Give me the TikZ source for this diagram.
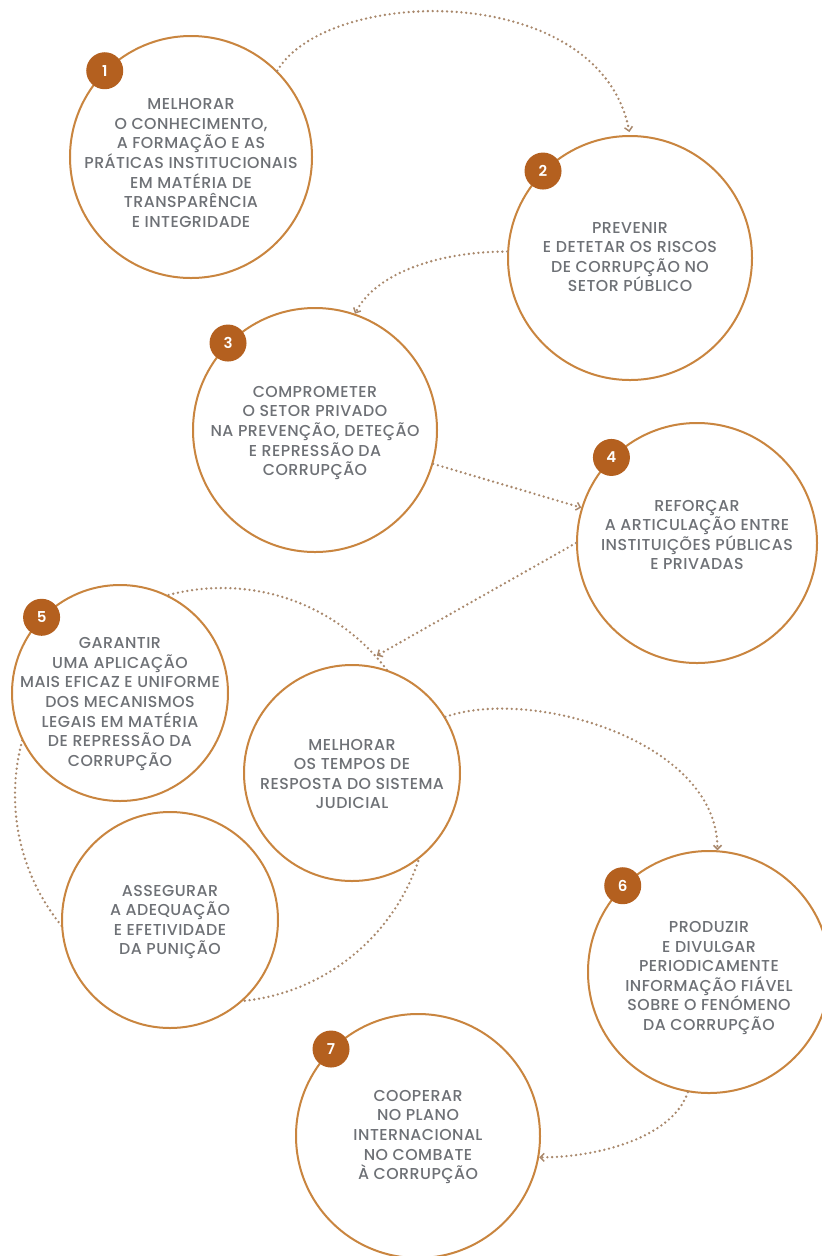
\documentclass[tikz,border=0pt]{standalone}
\usepackage{fontspec}
\setmainfont{Poppins}[UprightFont={* Medium}, BoldFont={* SemiBold}, LetterSpace=3]
\usetikzlibrary{arrows.meta}
\definecolor{ringcol}{HTML}{C9853F}
\definecolor{badgecol}{HTML}{B4601F}
\definecolor{txt}{HTML}{6E7176}
\definecolor{dotcol}{HTML}{A9886C}
\begin{document}
\begin{tikzpicture}[x=1bp,y=-1bp,
  circ/.style={circle, draw=ringcol, line width=2bp, fill=white, inner sep=0pt},
  lbl/.style={align=center, text=txt, font=\fontsize{15.8bp}{19.6bp}\selectfont, inner sep=0pt},
  badge/.style={circle, fill=badgecol, inner sep=0pt, minimum size=37bp, text=white, font=\fontsize{15bp}{15bp}\selectfont\bfseries},
  flow/.style={draw=dotcol, line width=2.6bp, line cap=round, dash pattern=on 0bp off 4.8bp, -{Straight Barb[length=4bp, width=8bp, line width=1.5bp]}},
  ringst/.style={circle, draw=dotcol, line width=2.6bp, line cap=round, dash pattern=on 0bp off 4.8bp, inner sep=0pt, minimum size=414bp}
]
\fill[white] (0,0) rectangle (822,1256);
\useasboundingbox (0,0) rectangle (822,1256);

% big dotted ring around the cluster
\node[ringst] (ring) at (222,795) {};

% circles
\node[circ, minimum size=242bp] (c1) at (191,157) {};
\node[circ, minimum size=244bp] (c2) at (630,258) {};
\node[circ, minimum size=244bp] (c3) at (315,430) {};
\node[circ, minimum size=240bp] (c4) at (697,543) {};
\node[circ, minimum size=216bp] (c5) at (120,693) {};
\node[circ, minimum size=216bp] (cm) at (352,773) {};
\node[circ, minimum size=216bp] (ca) at (170,920) {};
\node[circ, minimum size=242bp] (c6) at (709,972) {};
\node[circ, minimum size=244bp] (c7) at (418,1136) {};

% texts
\node[lbl] (t1) at (191,163) {MELHORAR\\O CONHECIMENTO,\\A FORMAÇÃO E AS\\PRÁTICAS INSTITUCIONAIS\\EM MATÉRIA DE\\TRANSPARÊNCIA\\E INTEGRIDADE};
\node[lbl] (t2) at (630,257) {PREVENIR\\E DETETAR OS RISCOS\\DE CORRUPÇÃO NO\\SETOR PÚBLICO};
\node[lbl] (t3) at (315,433) {COMPROMETER\\O SETOR PRIVADO\\NA PREVENÇÃO, DETEÇÃO\\E REPRESSÃO DA\\CORRUPÇÃO};
\node[lbl] (t4) at (697,535) {REFORÇAR\\A ARTICULAÇÃO ENTRE\\INSTITUIÇÕES PÚBLICAS\\E PRIVADAS};
\node[lbl] (t5) at (120,704) {GARANTIR\\UMA APLICAÇÃO\\MAIS EFICAZ E UNIFORME\\DOS MECANISMOS\\LEGAIS EM MATÉRIA\\DE REPRESSÃO DA\\CORRUPÇÃO};
\node[lbl] (tm) at (352,774) {MELHORAR\\OS TEMPOS DE\\RESPOSTA DO SISTEMA\\JUDICIAL};
\node[lbl] (ta) at (170,922) {ASSEGURAR\\A ADEQUAÇÃO\\E EFETIVIDADE\\DA PUNIÇÃO};
\node[lbl] (t6) at (709,978) {PRODUZIR\\E DIVULGAR\\PERIODICAMENTE\\INFORMAÇÃO FIÁVEL\\SOBRE O FENÓMENO\\DA CORRUPÇÃO};
\node[lbl] (t7) at (418,1137) {COOPERAR\\NO PLANO\\INTERNACIONAL\\NO COMBATE\\À CORRUPÇÃO};

% badges
\node[badge] (b1) at (c1.135) {1};
\node[badge] (b2) at (c2.135) {2};
\node[badge] (b3) at (c3.135) {3};
\node[badge] (b4) at (c4.135) {4};
\node[badge] (b5) at (c5.136) {5};
\node[badge] (b6) at (c6.135) {6};
\node[badge] (b7) at (c7.135) {7};

% connectors
\draw[flow, shorten >=3bp] (c1.45) .. controls +(50,-85) and +(-30,-155) .. (c2.90);
\draw[flow] (c2.177) .. controls +(-70,0) and +(20,-40) .. (c3.71);
\draw[flow] (c3.-16) -- (c4.163);
\draw[flow] (c4.180) -- (ring.42);
\draw[flow] (cm.31) .. controls +(85,-30) and +(0,-110) .. (c6.86);
\draw[flow] (c6.-100) .. controls +(-15,45) and +(60,0) .. (c7.-10);
\end{tikzpicture}
\end{document}
